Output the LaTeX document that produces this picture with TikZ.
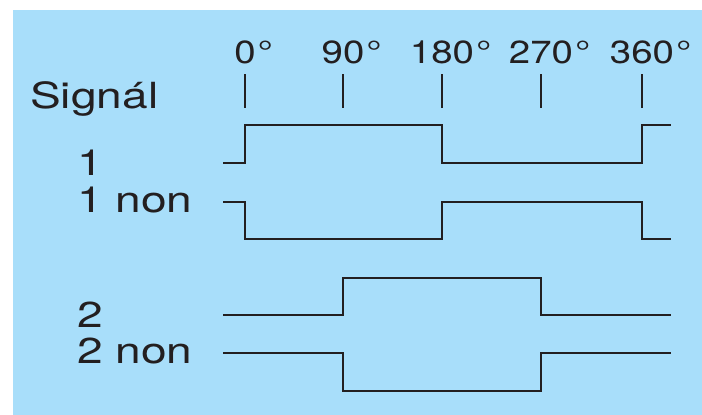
\documentclass[tikz,border=0pt]{standalone}
\usepackage{fontspec}
\setmainfont{TeX Gyre Heros}
\newfontfamily\widefont[FakeStretch=1.28]{TeX Gyre Heros}
\newfontfamily\degfont[FakeStretch=1.2]{TeX Gyre Heros}
\definecolor{bgblue}{RGB}{168,222,250}
\definecolor{ink}{RGB}{35,31,32}
\newcommand{\degmark}{\rlap{\kern2pt°}}
\begin{document}
\begin{tikzpicture}[x=1pt,y=-1pt,
  wave/.style={line width=2.8pt, draw=ink, line join=miter, line cap=butt},
  tick/.style={line width=2pt, draw=ink},
  lbl/.style={anchor=base west, inner sep=0pt, text=ink, font=\widefont\fontsize{36}{36}\selectfont},
  deg/.style={anchor=base, inner sep=0pt, text=ink, font=\degfont\fontsize{32}{32}\selectfont}]
\useasboundingbox (0,0) rectangle (702,415);
\fill[white] (0,0) rectangle (702,415);
\fill[bgblue] (13,10) rectangle (702,415);

% phase labels
\node[deg] (d0)   at (245,63) {0\degmark};
\node[deg] (d90)  at (343,63) {90\degmark};
\node[deg] (d180) at (442,63) {180\degmark};
\node[deg] (d270) at (541,63) {270\degmark};
\node[deg] (d360) at (642,63) {360\degmark};

% ticks
\foreach \x in {245,343,442,541,642}
  \draw[tick] (\x,74) -- (\x,108);

% signal labels
\node[lbl] (sig)  at (30,108)  {Signál};
\node[lbl] (s1)   at (77,175)  {1};
\node[lbl] (s1n)  at (77,212)  {1 non};
\node[lbl] (s2)   at (77,327)  {2};
\node[lbl] (s2n)  at (77,363)  {2 non};

% waveforms
\draw[wave] (223,163) -- (245,163) -- (245,125) -- (442,125) -- (442,163) -- (642,163) -- (642,125) -- (671,125);
\draw[wave] (223,202) -- (245,202) -- (245,239) -- (442,239) -- (442,202) -- (642,202) -- (642,239) -- (671,239);
\draw[wave] (223,315) -- (343,315) -- (343,278) -- (541,278) -- (541,315) -- (671,315);
\draw[wave] (223,353) -- (343,353) -- (343,391) -- (541,391) -- (541,353) -- (671,353);
\end{tikzpicture}
\end{document}
